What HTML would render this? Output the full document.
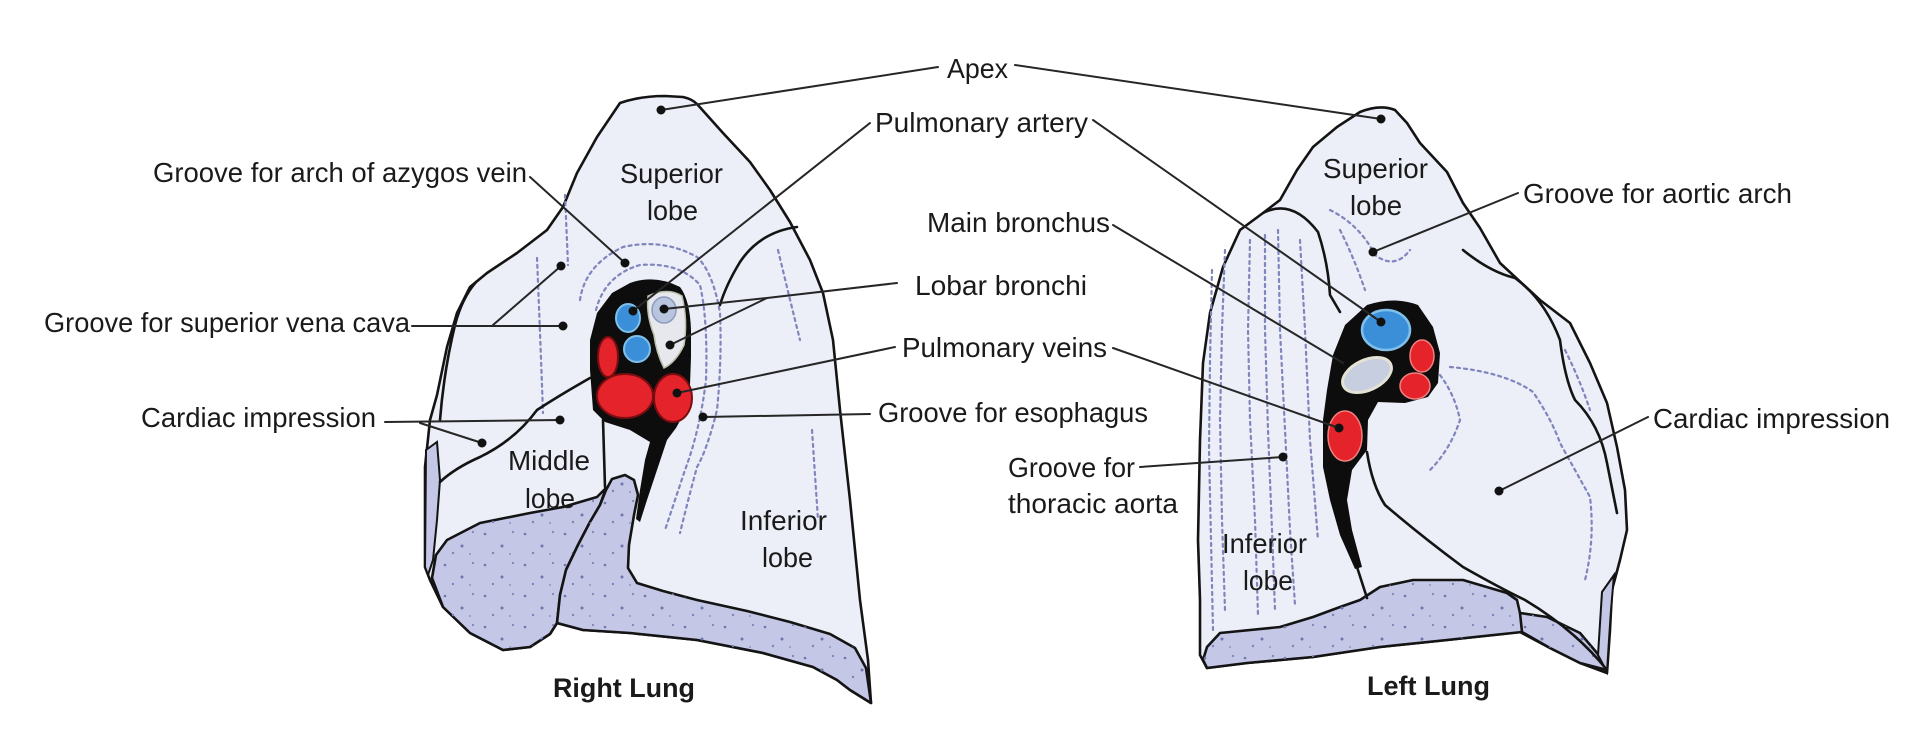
<!DOCTYPE html>
<html>
<head>
<meta charset="utf-8">
<style>
  html,body{margin:0;padding:0;background:#fff;}
  svg{display:block;}
  .t{font-family:"Liberation Sans",Arial,sans-serif;font-size:28px;fill:#1a1a1a;}
  .b{font-family:"Liberation Sans",Arial,sans-serif;font-size:27px;font-weight:bold;fill:#1a1a1a;}
  .ol{stroke:#141414;stroke-width:2.6;stroke-linejoin:round;stroke-linecap:round;}
  .nf{fill:none;}
  .ld{fill:none;stroke:#262626;stroke-width:2;stroke-linecap:round;}
  .tx{fill:none;stroke:#8085bb;stroke-width:2.2;stroke-dasharray:3 4;stroke-linecap:round;}
  .dot{fill:#111;}
</style>
</head>
<body>
<svg width="1923" height="732" viewBox="0 0 1923 732" xmlns="http://www.w3.org/2000/svg">
  <defs>
    <pattern id="st" width="40" height="31" patternUnits="userSpaceOnUse">
      <circle cx="5" cy="7" r="1.3" fill="#6f75ad"/>
      <circle cx="22" cy="19" r="1.5" fill="#6f75ad"/>
      <circle cx="33" cy="5" r="1.1" fill="#7f84b8"/>
      <circle cx="13" cy="26" r="1.2" fill="#7f84b8"/>
      <circle cx="30" cy="27" r="0.9" fill="#7f84b8"/>
    </pattern>
  </defs>

  <!-- ================= RIGHT LUNG ================= -->
  <path d="M620,103 Q640,96 665,96 L683,97 Q692,99 697,104 L723,133 L750,162 L770,190 L790,222 L810,260 L823,293 L833,340 L840,410 L850,500 L860,600 L868,660 L871,703 L850,690 L837,680 L813,667 L763,653 L697,640 L630,633 L583,630 L557,623 L550,634 L530,647 L503,650 L470,633 L443,607 L430,580 L425,567 L425,467 L430,420 L437,395 L447,347 L457,313 L470,287 L487,273 L517,253 L547,230 L563,207 L577,173 L597,137 Z" fill="#eceef8" class="ol"/>

  <path d="M426,450 L437,442 L440,480 L437,520 L433,560 L428,575 L425,567 Z" fill="#c4c7e6" stroke="#141414" stroke-width="2"/>
  <path d="M476,282 Q462,298 455,325 Q444,370 440,420" class="ol nf" stroke-width="2"/>

  <path d="M447,540 L480,523 L530,513 L563,507 L597,497 L606,488 L600,505 L590,522 L578,545 L566,570 L560,595 L557,623 L550,634 L530,647 L503,650 L470,633 L443,607 L432,578 L436,555 Z" fill="#c4c7e6" class="ol"/>
  <path d="M447,540 L480,523 L530,513 L563,507 L597,497 L606,488 L600,505 L590,522 L578,545 L566,570 L560,595 L557,623 L550,634 L530,647 L503,650 L470,633 L443,607 L432,578 L436,555 Z" fill="url(#st)"/>
  <path d="M606,490 L612,479 L625,475 L634,480 L638,495 L634,515 L629,545 L628,568 L637,583 L663,591 L697,600 L747,611 L790,622 L830,634 L855,648 L866,668 L871,703 L850,690 L837,680 L813,667 L763,653 L697,640 L630,633 L583,630 L557,623 L560,595 L566,570 L578,545 L590,522 L600,505 Z" fill="#c4c7e6" class="ol"/>
  <path d="M606,490 L612,479 L625,475 L634,480 L638,495 L634,515 L629,545 L628,568 L637,583 L663,591 L697,600 L747,611 L790,622 L830,634 L855,648 L866,668 L871,703 L850,690 L837,680 L813,667 L763,653 L697,640 L630,633 L583,630 L557,623 L560,595 L566,570 L578,545 L590,522 L600,505 Z" fill="url(#st)"/>

  <path class="tx" d="M537,258 Q540,330 543,413"/>
  <path class="tx" d="M565,195 L568,265"/>
  <path class="tx" d="M580,300 Q585,265 623,247 Q663,238 697,257 Q713,272 720,313 Q722,360 717,410 Q707,450 697,467 Q688,500 680,533"/>
  <path class="tx" d="M596,310 Q605,275 640,265 Q680,262 700,285 Q708,320 706,380 Q700,430 685,470 Q675,500 665,530"/>
  <path class="tx" d="M778,250 Q790,300 800,340"/>
  <path class="tx" d="M812,430 L818,520"/>

  <path class="ol nf" d="M590,378 Q560,395 537,410 Q515,440 480,457 Q455,468 440,482"/>
  <path class="ol nf" d="M603,420 L605,487"/>
  <path class="ol nf" d="M797,227 Q760,232 740,262 Q726,285 720,305"/>

  <path d="M630,283 Q655,274 680,287 Q690,300 691,330 L691,357 L690,385 L686,410 L676,428 L667,440 L657,470 L647,500 L640,522 L636,519 L640,490 L645,460 L650,442 L630,430 L605,422 L593,410 L590,370 L590,340 L597,313 L612,293 Z" fill="#0d0d0d"/>
  <path d="M648,296 Q668,287 682,296 Q688,320 684,345 Q676,362 664,368 Q656,352 654,335 Q646,315 648,296 Z" fill="#e6e8ee" stroke="#b9bfa8" stroke-width="1.5"/>
  <ellipse cx="664" cy="310" rx="12" ry="13" fill="#b9c4de" stroke="#8e9bbf" stroke-width="1.5"/>
  <ellipse cx="628" cy="318" rx="12" ry="14" fill="#3b8fd8" stroke="#7fc0ea" stroke-width="2"/>
  <ellipse cx="637" cy="349" rx="13" ry="13" fill="#3b8fd8" stroke="#7fc0ea" stroke-width="2"/>
  <ellipse cx="608" cy="357" rx="10" ry="20" fill="#e5232a" stroke="#7a0d10" stroke-width="2"/>
  <ellipse cx="625" cy="396" rx="28" ry="22" fill="#e5232a" stroke="#7a0d10" stroke-width="2"/>
  <ellipse cx="673" cy="398" rx="19" ry="24" fill="#e5232a" stroke="#7a0d10" stroke-width="2"/>

  <!-- ================= LEFT LUNG ================= -->
  <path d="M1360,112 Q1380,104 1395,110 L1407,123 L1420,143 L1447,172 L1463,203 L1480,228 L1500,263 L1540,300 L1570,323 L1590,363 L1607,403 L1617,447 L1625,490 L1627,530 L1620,560 L1612,590 L1610,630 L1607,673 L1580,663 L1550,648 L1520,632 L1447,640 L1380,647 L1313,657 L1247,663 L1207,668 L1200,655 L1200,600 L1198,540 L1200,440 L1203,363 L1210,313 L1223,267 L1240,230 L1263,213 L1280,200 L1297,170 L1313,147 L1337,127 Z" fill="#eceef8" class="ol"/>

  <path d="M1203,660 L1207,647 L1220,633 L1280,627 L1313,617 L1340,607 L1360,600 L1380,587 L1413,580 L1463,580 L1507,593 L1517,600 L1520,613 L1547,617 L1580,633 L1597,653 L1607,670 L1580,663 L1550,648 L1522,632 L1447,640 L1380,647 L1313,657 L1247,663 L1207,668 Z" fill="#c4c7e6" class="ol"/>
  <path d="M1203,660 L1207,647 L1220,633 L1280,627 L1313,617 L1340,607 L1360,600 L1380,587 L1413,580 L1463,580 L1507,593 L1517,600 L1520,613 L1547,617 L1580,633 L1597,653 L1607,670 L1580,663 L1550,648 L1522,632 L1447,640 L1380,647 L1313,657 L1247,663 L1207,668 Z" fill="url(#st)"/>
  <path d="M1520,613 L1522,632" class="ol nf"/>
  <path d="M1602,592 L1614,575 L1611,610 L1609,640 L1607,672 L1598,655 Z" fill="#c4c7e6" stroke="#141414" stroke-width="2"/>

  <path class="tx" d="M1212,270 L1210,360 L1209,450 L1211,540 L1213,630"/>
  <path class="tx" d="M1225,250 L1222,330 L1220,420 L1222,520 L1225,610"/>
  <path class="tx" d="M1250,240 L1248,330 L1250,420 L1255,520 L1258,615"/>
  <path class="tx" d="M1265,235 L1265,330 L1268,430 L1272,530 L1275,610"/>
  <path class="tx" d="M1278,230 L1280,330 L1285,430 L1290,530 L1295,605"/>
  <path class="tx" d="M1300,240 L1305,330 L1310,440 L1318,540"/>
  <path class="tx" d="M1330,210 Q1360,225 1375,255 Q1395,270 1410,250"/>
  <path class="tx" d="M1340,230 Q1355,260 1365,290"/>
  <path class="tx" d="M1450,367 Q1505,372 1533,392 Q1552,420 1560,443 Q1575,470 1590,497 Q1595,540 1585,580"/>
  <path class="tx" d="M1440,375 Q1455,395 1460,420 Q1450,450 1430,470"/>
  <path class="tx" d="M1565,350 Q1580,380 1590,410"/>

  <path class="ol nf" d="M1263,213 Q1292,198 1318,232 Q1328,262 1330,295 L1340,312"/>
  <path class="ol nf" d="M1367,452 Q1372,485 1385,505 Q1420,535 1463,567 Q1500,588 1525,600 Q1575,630 1607,670"/>
  <path class="ol nf" d="M1357,567 L1367,598"/>
  <path class="ol nf" d="M1463,250 Q1490,272 1515,278 Q1545,300 1560,340 Q1565,380 1575,400 Q1600,425 1607,463 L1617,513" stroke-width="2.2"/>

  <path d="M1367,305 Q1395,296 1418,305 L1433,327 L1440,353 L1438,383 L1428,397 L1405,403 L1378,402 L1368,420 L1367,450 L1352,470 L1347,500 L1352,530 L1362,567 L1355,569 L1340,535 L1330,500 L1323,467 L1323,420 L1327,390 L1333,355 L1345,325 Z" fill="#0d0d0d"/>
  <ellipse cx="1386" cy="330" rx="24" ry="20" fill="#3b8fd8" stroke="#7fc0ea" stroke-width="2.5"/>
  <ellipse cx="1367" cy="375" rx="26" ry="15" transform="rotate(-25 1367 375)" fill="#c6cee0" stroke="#e4e2d4" stroke-width="3"/>
  <ellipse cx="1422" cy="356" rx="12" ry="16" fill="#e5232a" stroke="#f08080" stroke-width="1.5"/>
  <ellipse cx="1415" cy="386" rx="15" ry="13" fill="#e5232a" stroke="#f08080" stroke-width="1.5"/>
  <ellipse cx="1345" cy="436" rx="17" ry="25" fill="#e5232a" stroke="#f08080" stroke-width="1.5"/>

  <!-- ================= LEADERS ================= -->
  <g class="ld">
    <line x1="938" y1="67" x2="661" y2="110"/>
    <line x1="1015" y1="65" x2="1381" y2="119"/>
    <line x1="870" y1="123" x2="633" y2="311"/>
    <line x1="1093" y1="120" x2="1381" y2="322"/>
    <line x1="530" y1="177" x2="625" y2="263"/>
    <line x1="412" y1="326" x2="563" y2="326"/>
    <line x1="493" y1="325" x2="561" y2="266"/>
    <line x1="385" y1="422" x2="560" y2="420"/>
    <line x1="420" y1="423" x2="482" y2="443"/>
    <line x1="1113" y1="225" x2="1343" y2="363"/>
    <line x1="897" y1="283" x2="767" y2="298"/>
    <line x1="767" y1="298" x2="664" y2="309"/>
    <line x1="767" y1="298" x2="670" y2="345"/>
    <line x1="895" y1="347" x2="677" y2="393"/>
    <line x1="1113" y1="348" x2="1339" y2="428"/>
    <line x1="870" y1="414" x2="703" y2="417"/>
    <line x1="1140" y1="467" x2="1283" y2="457"/>
    <line x1="1518" y1="193" x2="1373" y2="252"/>
    <line x1="1648" y1="417" x2="1499" y2="491"/>
  </g>
  <g class="dot">
    <circle cx="661" cy="110" r="4.5"/>
    <circle cx="1381" cy="119" r="4.5"/>
    <circle cx="625" cy="263" r="4.5"/>
    <circle cx="561" cy="266" r="4.5"/>
    <circle cx="563" cy="326" r="4.5"/>
    <circle cx="560" cy="420" r="4.5"/>
    <circle cx="482" cy="443" r="4.5"/>
    <circle cx="633" cy="311" r="4.5"/>
    <circle cx="664" cy="309" r="4.5"/>
    <circle cx="670" cy="345" r="4.5"/>
    <circle cx="677" cy="393" r="4.5"/>
    <circle cx="703" cy="417" r="4.5"/>
    <circle cx="1381" cy="322" r="4.5"/>
    <circle cx="1339" cy="428" r="4.5"/>
    <circle cx="1283" cy="457" r="4.5"/>
    <circle cx="1373" cy="252" r="4.5"/>
    <circle cx="1499" cy="491" r="4.5"/>
  </g>

  <!-- ================= TEXT ================= -->
  <g>
    <text class="t" x="947" y="78" textLength="61" lengthAdjust="spacingAndGlyphs">Apex</text>
    <text class="t" x="875" y="132" textLength="213" lengthAdjust="spacingAndGlyphs">Pulmonary artery</text>
    <text class="t" x="153" y="182" textLength="374" lengthAdjust="spacingAndGlyphs">Groove for arch of azygos vein</text>
    <text class="t" x="620" y="183" textLength="103" lengthAdjust="spacingAndGlyphs">Superior</text>
    <text class="t" x="647" y="220" textLength="51" lengthAdjust="spacingAndGlyphs">lobe</text>
    <text class="t" x="927" y="232" textLength="183" lengthAdjust="spacingAndGlyphs">Main bronchus</text>
    <text class="t" x="915" y="295" textLength="172" lengthAdjust="spacingAndGlyphs">Lobar bronchi</text>
    <text class="t" x="44" y="332" textLength="366" lengthAdjust="spacingAndGlyphs">Groove for superior vena cava</text>
    <text class="t" x="902" y="357" textLength="205" lengthAdjust="spacingAndGlyphs">Pulmonary veins</text>
    <text class="t" x="141" y="427" textLength="235" lengthAdjust="spacingAndGlyphs">Cardiac impression</text>
    <text class="t" x="878" y="422" textLength="270" lengthAdjust="spacingAndGlyphs">Groove for esophagus</text>
    <text class="t" x="1008" y="477" textLength="127" lengthAdjust="spacingAndGlyphs">Groove for</text>
    <text class="t" x="1008" y="513" textLength="170" lengthAdjust="spacingAndGlyphs">thoracic aorta</text>
    <text class="t" x="508" y="470" textLength="82" lengthAdjust="spacingAndGlyphs">Middle</text>
    <text class="t" x="525" y="508" textLength="50" lengthAdjust="spacingAndGlyphs">lobe</text>
    <text class="t" x="740" y="530" textLength="87" lengthAdjust="spacingAndGlyphs">Inferior</text>
    <text class="t" x="762" y="567" textLength="51" lengthAdjust="spacingAndGlyphs">lobe</text>
    <text class="t" x="1323" y="178" textLength="105" lengthAdjust="spacingAndGlyphs">Superior</text>
    <text class="t" x="1350" y="215" textLength="52" lengthAdjust="spacingAndGlyphs">lobe</text>
    <text class="t" x="1523" y="203" textLength="269" lengthAdjust="spacingAndGlyphs">Groove for aortic arch</text>
    <text class="t" x="1653" y="428" textLength="237" lengthAdjust="spacingAndGlyphs">Cardiac impression</text>
    <text class="t" x="1222" y="553" textLength="85" lengthAdjust="spacingAndGlyphs">Inferior</text>
    <text class="t" x="1243" y="590" textLength="50" lengthAdjust="spacingAndGlyphs">lobe</text>
    <text class="b" x="553" y="697" textLength="142" lengthAdjust="spacingAndGlyphs">Right Lung</text>
    <text class="b" x="1367" y="695" textLength="123" lengthAdjust="spacingAndGlyphs">Left Lung</text>
  </g>
</svg>
</body>
</html>
